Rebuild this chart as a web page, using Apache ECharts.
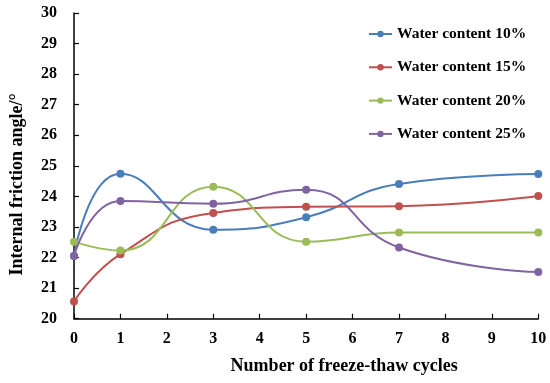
<!DOCTYPE html>
<html>
<head>
<meta charset="utf-8">
<script src="https://cdn.jsdelivr.net/npm/echarts@6/dist/echarts.min.js"></script>
<style>html,body{margin:0;padding:0;background:#fff}#c{width:550px;height:383px}</style>
</head>
<body>
<div id="c"></div>
<script>
const cycles = [0, 1, 3, 5, 7, 10];
const seriesNames = ['Water content 10%', 'Water content 15%', 'Water content 20%', 'Water content 25%'];
const wc10 = [22.05, 24.74, 22.91, 23.32, 24.41, 24.73];
const wc15 = [20.56, 22.11, 23.46, 23.66, 23.68, 24.01];
const wc20 = [22.52, 22.23, 24.32, 22.52, 22.82, 22.82];
const wc25 = [22.05, 23.85, 23.76, 24.22, 22.33, 21.53];
const colors = ['#4A7EBB', '#C0504D', '#9BBB59', '#8064A2'];

const allData = [wc10, wc15, wc20, wc25];
const font = 'Liberation Serif';

const chart = echarts.init(document.getElementById('c'), null, {renderer: 'canvas'});
chart.setOption({
  animation: false,
  backgroundColor: '#fff',
  grid: {left: 69.5, right: 11.7, top: 13, bottom: 64.3, containLabel: false},
  legend: {
    orient: 'vertical', left: 363, top: 21, itemGap: 17.3,
    itemWidth: 23, itemHeight: 8,
    textStyle: {fontFamily: font, fontWeight: 'bold', fontSize: 15.5, lineHeight: 16, color: '#000'},
    data: seriesNames
  },
  xAxis: {
    type: 'value', min: 0, max: 10, interval: 1,
    name: 'Number of freeze-thaw cycles', nameLocation: 'middle', nameGap: 39,
    nameTextStyle: {fontFamily: font, fontWeight: 'bold', fontSize: 18, color: '#000', padding: [0, 0, 0, 76]},
    axisLine: {lineStyle: {color: '#000', width: 1.5}},
    axisTick: {inside: true, length: 5, lineStyle: {color: '#000', width: 1.2}},
    axisLabel: {fontFamily: font, fontWeight: 'bold', fontSize: 16, color: '#000', margin: 12},
    splitLine: {show: false}
  },
  yAxis: {
    type: 'value', min: 20, max: 30, interval: 1,
    name: 'Internal friction angle/°', nameLocation: 'middle', nameGap: 48, nameRotate: 90,
    nameTextStyle: {fontFamily: font, fontWeight: 'bold', fontSize: 18, color: '#000', padding: [0, 37, 0, 0]},
    axisLine: {show: true, lineStyle: {color: '#000', width: 1.5}},
    axisTick: {show: true, inside: true, length: 5, lineStyle: {color: '#000', width: 1.2}},
    axisLabel: {fontFamily: font, fontWeight: 'bold', fontSize: 16, color: '#000', margin: 17},
    splitLine: {show: false}
  },
  series: allData.map((d, i) => ({
    name: seriesNames[i],
    type: 'line',
    smooth: 0.5,
    symbol: 'circle', symbolSize: 8,
    data: cycles.map((x, j) => [x, d[j]]),
    itemStyle: {color: colors[i]},
    lineStyle: {color: colors[i], width: 2}
  }))
});
</script>
</body>
</html>
